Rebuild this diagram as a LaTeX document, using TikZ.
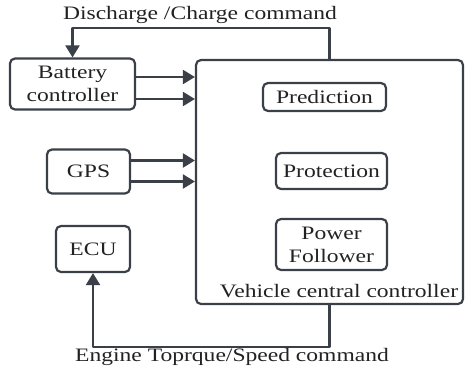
\documentclass[tikz,border=0pt]{standalone}
\usepackage{fontspec}
\setmainfont{Liberation Serif}[FakeStretch=1.24]
\usetikzlibrary{arrows.meta}
\definecolor{edge}{HTML}{3B4048}
\definecolor{ink}{HTML}{222222}
\tikzset{
  blk/.style={draw=edge, line width=2.2pt, rounded corners=5pt, inner sep=0pt, align=center, text=ink},
  sig/.style={draw=edge, line width=2.2pt, -{Triangle[length=12pt,width=14pt]}},
}
\begin{document}
\begin{tikzpicture}[x=1pt,y=-1pt, font=\fontsize{19}{23}\selectfont, line join=round]
	\useasboundingbox (0,0) rectangle (465,372);
	% controllers
	\node[blk, minimum width=267pt, minimum height=244pt] (vcc) at (329.5,182) {};
	\node[text=ink] (vcclab) at (339,291) {Vehicle central controller};
	\node[blk, minimum width=123pt, minimum height=28pt] (pred) at (324.5,97) {Prediction};
	\node[blk, minimum width=111pt, minimum height=36pt] (prot) at (331.5,171) {Protection};
	\node[blk, minimum width=111pt, minimum height=51pt] (pf) at (331.5,244.5) {Power\\Follower};
	% inputs
	\node[blk, minimum width=125pt, minimum height=51pt] (bat) at (72.5,84) {Battery\\controller};
	\node[blk, minimum width=83pt, minimum height=44pt] (gps) at (88.5,171.5) {GPS};
	\node[blk, minimum width=74pt, minimum height=46pt] (ecu) at (93,249) {ECU};
	% signals
	\foreach \s in {7,-15}{
		\coordinate (p) at ([yshift=\s pt]bat.east);
		\draw[sig] (p) -- (p -| vcc.west);
	}
	\foreach \s in {11,-10}{
		\coordinate (p) at ([yshift=\s pt]gps.east);
		\draw[sig] (p) -- (p -| vcc.west);
	}
	\draw[sig] (vcc.north) -- ++(0,-31) -| (bat.north);
	\node[text=ink] (dc) at (200,15) {Discharge /Charge command};
	\draw[sig] (vcc.south) -- ++(0,42) -| (ecu.south);
	\node[text=ink] (eng) at (232,357) {Engine Toprque/Speed command};
\end{tikzpicture}
\end{document}
